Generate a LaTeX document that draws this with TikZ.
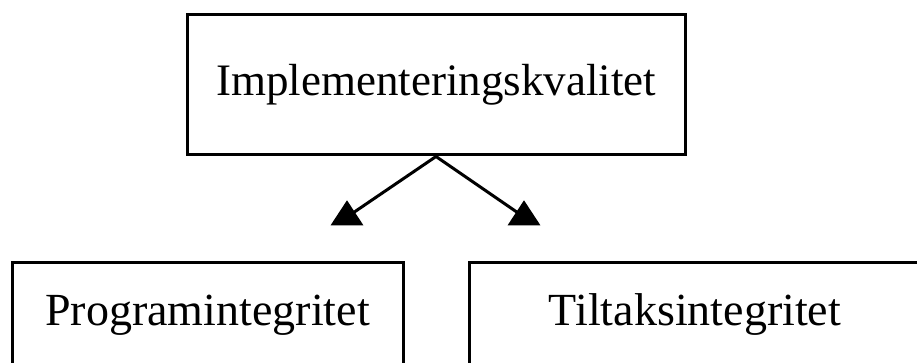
\documentclass[tikz,border=0pt]{standalone}
\usepackage{fontspec}
\setmainfont{Liberation Serif}
\usetikzlibrary{shapes.geometric}
\tikzstyle{box}=[rectangle,draw=black,line width=3pt,inner sep=0pt,font=\fontsize{45}{54}\selectfont]
\tikzstyle{lowbox}=[box,font=\fontsize{46}{55}\selectfont,minimum height=106pt]
\tikzstyle{head}=[regular polygon,regular polygon sides=3,fill=black,draw=none,inner sep=0pt,minimum size=38pt,yscale=0.88]
\tikzstyle{link}=[-,line width=3pt]
\pgfdeclarelayer{edgelayer}
\pgfdeclarelayer{nodelayer}
\pgfsetlayers{edgelayer,nodelayer,main}
\begin{document}
\begin{tikzpicture}[x=1pt,y=-1pt]
	\useasboundingbox (0,0) rectangle (917,363);
	\begin{pgfonlayer}{nodelayer}
		\node [style=box,minimum width=498pt,minimum height=140pt] (top) at (436,85) {Implementeringskvalitet};
		\node [style=lowbox,minimum width=391pt] (prog) at (207.5,315) {Programintegritet};
		\node [style=lowbox,minimum width=452pt] (tiltak) at (695,315) {Tiltaksintegritet};

		\node [style=head] (hl) at (347,217) {};
		\node [style=head] (hr) at (524,217) {};
	\end{pgfonlayer}
	\begin{pgfonlayer}{edgelayer}
		\draw [style=link] (top.south) to (hl.center);
		\draw [style=link] (top.south) to (hr.center);
	\end{pgfonlayer}
\end{tikzpicture}
\end{document}
